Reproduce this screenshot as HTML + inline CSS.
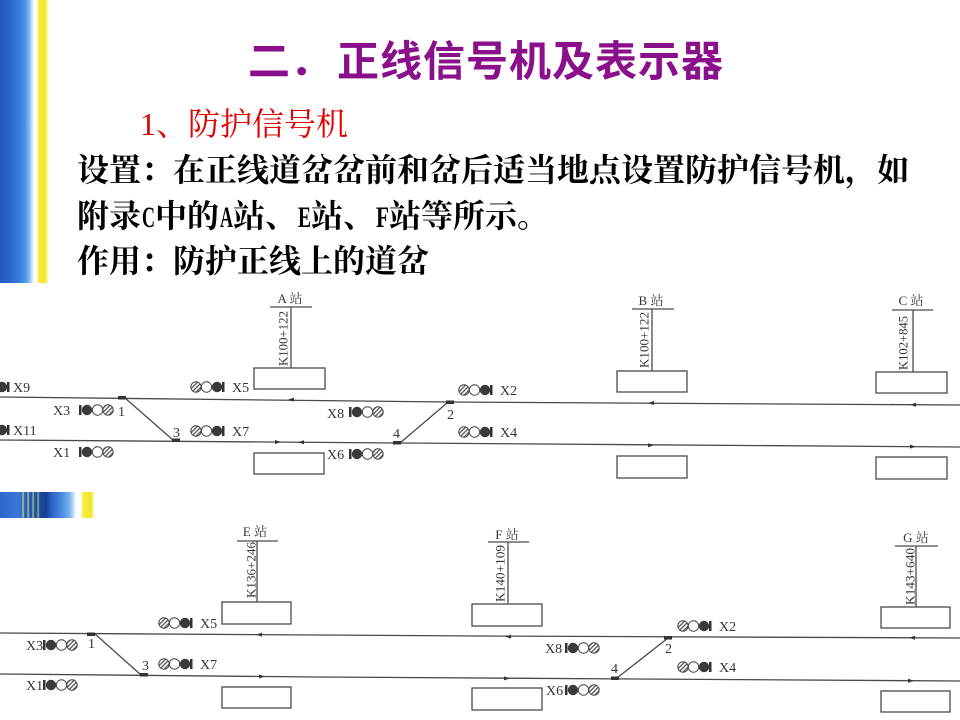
<!DOCTYPE html>
<html>
<head>
<meta charset="utf-8">
<style>
  html,body{margin:0;padding:0;background:#fff;}
  body{width:960px;height:720px;position:relative;overflow:hidden;}
  .stripe{position:absolute;left:0;top:0;width:50px;height:283px;
    background:linear-gradient(to right,#2258c0 0px,#2a66cc 10px,#3579d8 18px,#4a92e6 25px,#79b8f2 29px,#c6e4fb 32px,#ffffff 34px,#ffffff 37px,#f5ef3c 38.5px,#efe62c 45px,#fbf7a0 47px,#ffffff 49px);}
  .band{position:absolute;left:0;top:492px;width:96px;height:26px;
    background:linear-gradient(to right,#2c66cc 0px,#3a78d8 18px,#3170d2 22px,#c8e070 23px,#2a5cc0 24.5px,#2a5cc0 27px,#c0d870 28px,#2456b8 29.5px,#2456b8 32px,#b8d070 33px,#2050b0 34.5px,#2050b0 37px,#a0c070 38px,#1d4aa5 39.5px,#183f90 46px,#2d66c6 52px,#4a8ce0 62px,#7cb8f0 70px,#c8e6fb 74px,#ffffff 76px,#ffffff 81px,#f5ef3c 83px,#efe62c 91px,#ffffff 95px);}
  svg{position:absolute;left:0;top:0;}
</style>
</head>
<body>
<div class="stripe"></div>
<div class="band"></div>

<svg width="960" height="720" viewBox="0 0 960 720" xmlns="http://www.w3.org/2000/svg">
  <defs>
    <pattern id="h" width="3" height="3" patternUnits="userSpaceOnUse" patternTransform="rotate(45)">
      <rect width="3" height="3" fill="#fff"/>
      <rect width="1.3" height="3" fill="#555"/>
    </pattern>
    <g id="L">
      <rect x="0" y="-5" width="2.5" height="10" fill="#333"/>
      <circle cx="8" cy="0" r="5.2" fill="#3a3a3a"/>
      <circle cx="18.5" cy="0" r="5.2" fill="#fff" stroke="#444" stroke-width="1"/>
      <circle cx="29" cy="0" r="5.2" fill="url(#h)" stroke="#444" stroke-width="1"/>
    </g>
    <g id="R">
      <circle cx="0" cy="0" r="5.2" fill="url(#h)" stroke="#444" stroke-width="1"/>
      <circle cx="10.5" cy="0" r="5.2" fill="#fff" stroke="#444" stroke-width="1"/>
      <circle cx="21" cy="0" r="5.2" fill="#3a3a3a"/>
      <rect x="26" y="-5" width="2.5" height="10" fill="#333"/>
    </g>
  </defs>

  <!-- Title -->
  <g font-family="'Liberation Sans','Noto Sans CJK SC',sans-serif" font-weight="bold" font-size="42" fill="#8a0f8a">
    <text x="248" y="76">二．</text>
    <text x="337" y="76" letter-spacing="1">正线信号机及表示器</text>
  </g>

  <!-- Red subheading -->
  <text x="140" y="135" font-family="'Liberation Serif','Noto Serif CJK SC',serif" font-size="32" fill="#e00000">1、防护信号机</text>

  <!-- Body text -->
  <g font-family="'Liberation Serif','Noto Serif CJK SC',serif" font-weight="bold" font-size="32" fill="#000">
    <text x="77" y="181">设置：在正线道岔岔前和岔后适当地点设置防护信号机，如</text>
    <text x="77" y="227">附录</text>
    <text x="142" y="227" font-size="30" textLength="13" lengthAdjust="spacingAndGlyphs">C</text>
    <text x="155" y="227">中的</text>
    <text x="220" y="227" font-size="30" textLength="13" lengthAdjust="spacingAndGlyphs">A</text>
    <text x="233" y="227">站、</text>
    <text x="298" y="227" font-size="30" textLength="13" lengthAdjust="spacingAndGlyphs">E</text>
    <text x="311" y="227">站、</text>
    <text x="376" y="227" font-size="30" textLength="13" lengthAdjust="spacingAndGlyphs">F</text>
    <text x="389" y="227">站等所示。</text>
    <text x="77" y="272">作用：防护正线上的道岔</text>
  </g>

  <!-- ================= PANEL 1 ================= -->
  <g stroke="#4a4a4a" stroke-width="1.3" fill="none">
    <polyline points="0,397 446,402 960,405"/>
    <polyline points="0,440 400,443 960,447"/>
    <line x1="125" y1="398" x2="173" y2="440"/>
    <line x1="447" y1="403" x2="400" y2="443"/>
    <!-- station A -->
    <line x1="270" y1="307" x2="312" y2="307"/>
    <line x1="291" y1="307" x2="291" y2="368"/>
    <rect x="254" y="368" width="71" height="21"/>
    <rect x="254" y="453" width="70" height="21"/>
    <!-- station B -->
    <line x1="632" y1="309" x2="674" y2="309"/>
    <line x1="652" y1="309" x2="652" y2="371"/>
    <rect x="617" y="371" width="70" height="21"/>
    <rect x="617" y="456" width="70" height="22"/>
    <!-- station C -->
    <line x1="892" y1="310" x2="933" y2="310"/>
    <line x1="913" y1="310" x2="913" y2="372"/>
    <rect x="876" y="372" width="71" height="21"/>
    <rect x="876" y="457" width="71" height="22"/>
  </g>
  <!-- switch blocks panel 1 -->
  <g fill="#333">
    <rect x="118" y="396" width="8" height="3.5"/>
    <rect x="172" y="438.5" width="8" height="3.5"/>
    <rect x="446" y="400.5" width="8" height="3.5"/>
    <rect x="393" y="441" width="8" height="3.5"/>
    <!-- arrows -->
    <polygon points="288,399.6 294,397.6 294,401.6"/>
    <polygon points="648,403 654,401 654,405"/>
    <polygon points="910,404.7 916,402.7 916,406.7"/>
    <polygon points="281,442 275,440 275,444"/>
    <polygon points="298,442.3 304,440.3 304,444.3"/>
    <polygon points="654,445.3 648,443.3 648,447.3"/>
    <polygon points="916,446.6 910,444.6 910,448.6"/>
  </g>
  <!-- partial signals at left edge -->
  <circle cx="2" cy="387" r="5.2" fill="#3a3a3a"/>
  <rect x="7" y="382" width="2.5" height="10" fill="#333"/>
  <circle cx="2" cy="430" r="5.2" fill="#3a3a3a"/>
  <rect x="7" y="425" width="2.5" height="10" fill="#333"/>
  <!-- signals panel 1 -->
  <use href="#L" x="79" y="410"/>
  <use href="#L" x="79" y="452"/>
  <use href="#L" x="349" y="412"/>
  <use href="#L" x="349" y="454"/>
  <use href="#R" x="196" y="387"/>
  <use href="#R" x="196" y="431"/>
  <use href="#R" x="464" y="390"/>
  <use href="#R" x="464" y="432"/>

  <g font-family="'Liberation Serif','Noto Serif CJK SC',serif" font-size="14" fill="#333">
    <text x="13" y="392">X9</text>
    <text x="13" y="435">X11</text>
    <text x="53" y="415">X3</text>
    <text x="53" y="457">X1</text>
    <text x="327" y="418">X8</text>
    <text x="327" y="459">X6</text>
    <text x="232" y="392">X5</text>
    <text x="232" y="436">X7</text>
    <text x="500" y="395">X2</text>
    <text x="500" y="437">X4</text>
    <text x="118" y="416">1</text>
    <text x="173" y="437">3</text>
    <text x="447" y="419">2</text>
    <text x="393" y="438">4</text>
  </g>
  <g font-family="'Liberation Serif','Noto Serif CJK SC',serif" font-size="13" fill="#333" text-anchor="middle">
    <text x="290" y="303">A 站</text>
    <text x="651" y="305">B 站</text>
    <text x="911" y="305">C 站</text>
    <text x="255" y="536">E 站</text>
    <text x="507" y="539">F 站</text>
    <text x="916" y="542">G 站</text>
  </g>
  <g font-family="'Liberation Serif',serif" font-size="12.5" fill="#333">
    <text transform="translate(287.5,366) rotate(-90)" textLength="55" lengthAdjust="spacingAndGlyphs">K100+122</text>
    <text transform="translate(648.5,368) rotate(-90)" textLength="56" lengthAdjust="spacingAndGlyphs">K100+122</text>
    <text transform="translate(907.5,370) rotate(-90)" textLength="54" lengthAdjust="spacingAndGlyphs">K102+845</text>
    <text transform="translate(255.5,598) rotate(-90)" textLength="56" lengthAdjust="spacingAndGlyphs">K136+246</text>
    <text transform="translate(504.5,602) rotate(-90)" textLength="57" lengthAdjust="spacingAndGlyphs">K140+109</text>
    <text transform="translate(914.5,605) rotate(-90)" textLength="57" lengthAdjust="spacingAndGlyphs">K143+640</text>
  </g>

  <!-- ================= PANEL 2 ================= -->
  <g stroke="#4a4a4a" stroke-width="1.3" fill="none">
    <polyline points="0,633 317,635 480,636 960,638"/>
    <polyline points="0,674 317,677 960,681"/>
    <line x1="95" y1="634" x2="141" y2="675"/>
    <line x1="668" y1="638" x2="617" y2="678"/>
    <!-- station E -->
    <line x1="237" y1="541" x2="278" y2="541"/>
    <line x1="257" y1="541" x2="257" y2="602"/>
    <rect x="222" y="602" width="69" height="22"/>
    <rect x="222" y="687" width="69" height="21"/>
    <!-- station F -->
    <line x1="488" y1="542" x2="529" y2="542"/>
    <line x1="508" y1="542" x2="508" y2="604"/>
    <rect x="472" y="604" width="70" height="22"/>
    <rect x="472" y="688" width="70" height="22"/>
    <!-- station G -->
    <line x1="895" y1="546" x2="938" y2="546"/>
    <line x1="916" y1="546" x2="916" y2="607"/>
    <rect x="881" y="607" width="69" height="21"/>
    <rect x="881" y="691" width="69" height="21"/>
  </g>
  <g fill="#333">
    <rect x="87" y="632.5" width="8" height="3.5"/>
    <rect x="140" y="673" width="8" height="3.5"/>
    <rect x="664" y="636" width="8" height="3.5"/>
    <rect x="611" y="676.5" width="8" height="3.5"/>
    <polygon points="256,634.6 262,632.6 262,636.6"/>
    <polygon points="505,636.6 511,634.6 511,638.6"/>
    <polygon points="909,637.8 915,635.8 915,639.8"/>
    <polygon points="265,676.5 259,674.5 259,678.5"/>
    <polygon points="510,678.4 504,676.4 504,680.4"/>
    <polygon points="914,680.7 908,678.7 908,682.7"/>
  </g>
  <use href="#L" x="43" y="645"/>
  <use href="#L" x="43" y="685"/>
  <use href="#L" x="565" y="648"/>
  <use href="#L" x="565" y="690"/>
  <use href="#R" x="164" y="623"/>
  <use href="#R" x="164" y="664"/>
  <use href="#R" x="683" y="626"/>
  <use href="#R" x="683" y="667"/>

  <g font-family="'Liberation Serif','Noto Serif CJK SC',serif" font-size="14" fill="#333">
    <text x="26" y="650">X3</text>
    <text x="26" y="690">X1</text>
    <text x="200" y="628">X5</text>
    <text x="200" y="669">X7</text>
    <text x="545" y="653">X8</text>
    <text x="546" y="695">X6</text>
    <text x="719" y="631">X2</text>
    <text x="719" y="672">X4</text>
    <text x="88" y="648">1</text>
    <text x="142" y="670">3</text>
    <text x="665" y="653">2</text>
    <text x="611" y="673">4</text>
  </g>
</svg>
</body>
</html>
